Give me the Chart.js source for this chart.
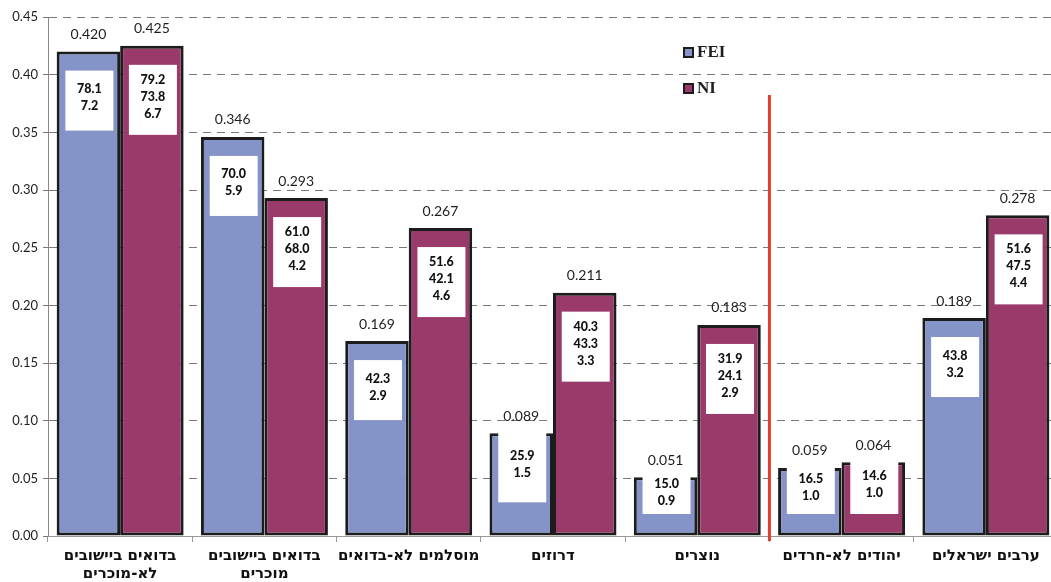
<!DOCTYPE html>
<html>
<head>
<meta charset="utf-8">
<script src="https://cdn.jsdelivr.net/npm/chart.js@4/dist/chart.umd.min.js"></script>
<style>
html,body{margin:0;padding:0;background:#fff;overflow:hidden;}
#wrap{width:1058px;height:582px;}
</style>
</head>
<body>
<div id="wrap"><canvas id="c" width="1058" height="582"></canvas></div>
<script>
const categories = [
  ["בדואים ביישובים","לא-מוכרים"],
  ["בדואים ביישובים","מוכרים"],
  "מוסלמים לא-בדואים",
  "דרוזים",
  "נוצרים",
  "יהודים לא-חרדים",
  "ערבים ישראלים"
];
const seriesNames = ["FEI", "NI"];
const feiValues = [0.420, 0.346, 0.169, 0.089, 0.051, 0.059, 0.189];
const niValues  = [0.425, 0.293, 0.267, 0.211, 0.183, 0.064, 0.278];
const feiBoxText = [["78.1","7.2"],["70.0","5.9"],["42.3","2.9"],["25.9","1.5"],["15.0","0.9"],["16.5","1.0"],["43.8","3.2"]];
const niBoxText  = [["79.2","73.8","6.7"],["61.0","68.0","4.2"],["51.6","42.1","4.6"],["40.3","43.3","3.3"],["31.9","24.1","2.9"],["14.6","1.0"],["51.6","47.5","4.4"]];
const yTicks = [0,0.05,0.10,0.15,0.20,0.25,0.30,0.35,0.40,0.45];
const dividerAfterIndex = 4;

const BLUE = '#8594C8', MAROON = '#9A3A6B', EDGE = '#1c1c1c', TXT = '#1e1e1e';

const overlay = {
  id: 'overlay',
  afterDatasetsDraw(chart) {
    const ctx = chart.ctx;
    const base = chart.scales.y.getPixelForValue(0);
    const boxes = [feiBoxText, niBoxText];
    const vals = [feiValues, niValues];
    for (let d = 0; d < 2; d++) {
      const meta = chart.getDatasetMeta(d);
      meta.data.forEach((bar, i) => {
        const lines = boxes[d][i];
        const top = bar.y;
        ctx.save();
        ctx.fillStyle = TXT;
        ctx.font = '14px Lato, "DejaVu Sans", sans-serif';
        ctx.textAlign = 'center';
        ctx.textBaseline = 'middle';
        ctx.fillText(vals[d][i].toFixed(3), bar.x, top - 17);
        let h = lines.length === 3 ? 70 : 60;
        let by = top + 19;
        if (by + h > base - 30) {
          by = top - 1;
          h = Math.min(h + 10, base - 22 - by);
        }
        const bw = 48;
        const bx = bar.x - bw / 2 + 1;
        ctx.fillStyle = '#ffffff';
        ctx.fillRect(bx, by, bw, h);
        ctx.fillStyle = '#111';
        ctx.font = '900 12.5px Lato, "DejaVu Sans", sans-serif';
        const lh = 17;
        const cy = by + h / 2 - 3;
        lines.forEach((t, k) => {
          ctx.fillText(t, bar.x + 1, cy + (k - (lines.length - 1) / 2) * lh);
        });
        ctx.restore();
      });
    }
    const m0 = chart.getDatasetMeta(1).data[dividerAfterIndex];
    const m1 = chart.getDatasetMeta(0).data[dividerAfterIndex + 1];
    const xr = ((m0.x + m0.width / 2) + (m1.x - m1.width / 2)) / 2;
    ctx.save();
    ctx.strokeStyle = '#E23C2E';
    ctx.lineWidth = 3;
    ctx.beginPath();
    ctx.moveTo(xr, 95);
    ctx.lineTo(xr, base + 5);
    ctx.stroke();
    ctx.restore();
    const items = [[seriesNames[0], BLUE, 53], [seriesNames[1], MAROON, 89]];
    ctx.save();
    items.forEach(([name, col, y]) => {
      ctx.fillStyle = col;
      ctx.fillRect(684, y - 5, 9, 9);
      ctx.strokeStyle = EDGE;
      ctx.lineWidth = 2;
      ctx.strokeRect(684, y - 5, 9, 9);
      ctx.fillStyle = TXT;
      ctx.font = 'bold 17px "Liberation Serif", "DejaVu Serif", serif';
      ctx.textAlign = 'left';
      ctx.textBaseline = 'middle';
      ctx.fillText(name, 697, y);
    });
    ctx.restore();
  }
};

new Chart(document.getElementById('c'), {
  type: 'bar',
  data: {
    labels: categories,
    datasets: [
      { label: seriesNames[0], data: feiValues, backgroundColor: BLUE, borderColor: EDGE, borderWidth: 3, borderSkipped: false,
        categoryPercentage: 0.88, barPercentage: 1.0 },
      { label: seriesNames[1], data: niValues, backgroundColor: MAROON, borderColor: EDGE, borderWidth: 3, borderSkipped: false,
        categoryPercentage: 0.88, barPercentage: 1.0 }
    ]
  },
  options: {
    responsive: false,
    animation: false,
    layout: { padding: { top: 17, right: 0, left: 0, bottom: 0 } },
    plugins: { legend: { display: false }, tooltip: { enabled: false } },
    scales: {
      x: {
        grid: { display: true, drawOnChartArea: false, tickLength: 6, color: '#999', offset: true },
        border: { display: true, color: '#999', width: 1 },
        ticks: { color: '#111', padding: 5, maxRotation: 0, autoSkip: false,
          font: { family: '"DejaVu Sans", "Liberation Sans", sans-serif', size: 15, weight: 'bold', lineHeight: 1.2 } },
        afterFit(s) { s.height = 46; }
      },
      y: {
        min: 0, max: 0.45,
        afterBuildTicks(s) { s.ticks = yTicks.map(v => ({ value: v })); },
        grid: { color: '#7a7a7a', lineWidth: 1, tickLength: 5, tickColor: '#7a7a7a', tickBorderDash: [] },
        border: { display: true, color: '#8a8a8a', width: 1, dash: [8, 6] },
        ticks: { color: TXT, padding: 5, font: { family: 'Lato, "DejaVu Sans", sans-serif', size: 13 },
          callback: v => Number(v).toFixed(2) },
        afterFit(s) { s.width = 48; }
      }
    }
  },
  plugins: [overlay]
});
</script>
</body>
</html>
